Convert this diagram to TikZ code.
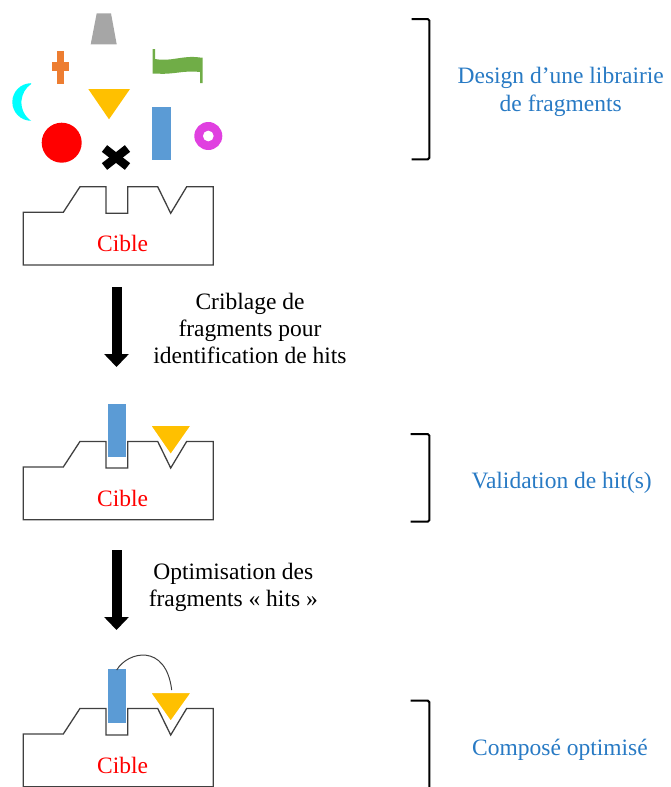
\documentclass[tikz,border=0pt]{standalone}
\usepackage{fontspec}
\setmainfont{Liberation Serif}
\usetikzlibrary{arrows.meta}
\definecolor{outl}{RGB}{64,64,64}
\definecolor{fgray}{RGB}{166,166,166}
\definecolor{forange}{RGB}{237,125,49}
\definecolor{fgreen}{RGB}{112,173,71}
\definecolor{fyellow}{RGB}{255,192,0}
\definecolor{fblue}{RGB}{91,155,213}
\definecolor{fmag}{RGB}{224,64,224}
\definecolor{fcyan}{RGB}{0,255,255}
\definecolor{lbl}{RGB}{40,122,196}
\tikzset{
  cibletxt/.style={text=red, font=\fontsize{23.5}{27}\selectfont, inner sep=0pt},
  steptxt/.style={text=black, font=\fontsize{23.5}{27}\selectfont, align=center, inner sep=0pt},
  bluetxt/.style={text=lbl, font=\fontsize{23.5}{28.5}\selectfont, align=center, inner sep=0pt},
  bracket/.style={draw=black, line width=2pt, rounded corners=1.5pt},
  bigarrow/.style={line width=10pt, -{Triangle[width=24pt,length=13pt]}},
  cible/.pic={
    \draw[outl, line width=1.3pt, line join=miter]
      (23.3,265) -- (23.3,212.3) -- (63.3,212.3) -- (80,186.7) -- (106,186.7)
      -- (106,213.3) -- (127.7,213.3) -- (127.7,186.7) -- (157.7,186.7)
      -- (170.7,213.3) -- (186.7,186.7) -- (213.3,186.7) -- (213.3,265) -- cycle;
    \node[cibletxt] (lab) at (122.7,243.3) {Cible};
  }
}
\begin{document}
\begin{tikzpicture}[x=1pt,y=-1pt]
\useasboundingbox (0,0) rectangle (671,787);

% ---- fragment library ----
\fill[fgray] (96.7,13.3) -- (111,13.3) -- (116.7,44.3) -- (90.7,44.3) -- cycle;
\fill[forange] (56.7,50.7) rectangle (64,84);
\fill[forange] (52.3,62) rectangle (69.3,70.7);
\fill[fgreen] (152.5,49) -- (155,49) -- (155,59)
  .. controls (172,62) and (182,55) .. (200,57.5) -- (202.7,57.5) -- (202.7,83) -- (200,83) -- (200,72)
  .. controls (182,70) and (175,75) .. (155,73.5) -- (152.5,73.5) -- cycle;
\fill[fcyan] (31.1,83.2) arc[start angle=90, end angle=270, radius=18.8pt]
  arc[start angle=235.5, end angle=124.5, radius=22.3pt] -- cycle;
\fill[fyellow] (88.3,89) -- (130,89) -- (109,119.3) -- cycle;
\fill[red] (61.7,142.7) circle[radius=20pt];
\draw[black, line width=8.5pt] (104.5,148.5) -- (127.5,166.5);
\draw[black, line width=8.5pt] (104.5,166.5) -- (127.5,148.5);
\fill[fblue] (151.7,107.3) rectangle (171,160);
\fill[fmag, even odd rule] (208.3,136) circle[radius=14pt] (208.3,136) circle[radius=5.5pt];

% ---- targets ----
\pic (c1) at (0,0) {cible};
\pic (c2) at (0,254.7) {cible};
\pic (c3) at (0,521.7) {cible};

% bound fragments (step 2)
\fill[fblue] (107.7,404.3) rectangle (126,456.7);
\fill[fyellow, draw=white, line width=1.5pt] (150,425) -- (191.7,425) -- (170.7,455) -- cycle;

% optimised compound (step 3)
\fill[fblue] (107.7,669.3) rectangle (126,722.7);
\fill[fyellow, draw=white, line width=1.5pt] (150,692.3) -- (191.7,692.3) -- (170.7,721.7) -- cycle;
\coordinate (l1) at (116.7,670);
\coordinate (l2) at (171.7,690);
\draw[outl, line width=1pt] (l1) .. controls (128,651) and (166,643) .. (l2);

% ---- arrows ----
\coordinate (a1s) at (116.5,287);
\coordinate (a1e) at (116.5,367);
\draw[bigarrow] (a1s) -- (a1e);
\node[steptxt] (t1) at (250,328) {Criblage de\\fragments pour\\identification de hits};

\coordinate (a2s) at (116.5,550);
\coordinate (a2e) at (116.5,630);
\draw[bigarrow] (a2s) -- (a2e);
\node[steptxt] (t2) at (233.3,587) {Optimisation des\\fragments « hits »};

% ---- brackets ----
\coordinate (b1a) at (411.7,19);
\coordinate (b1b) at (411.7,159.3);
\draw[bracket] (b1a) -- (429.3,19) -- (429.3,159.3) -- (b1b);
\node[bluetxt] (d1) at (560.7,91.7) {Design d’une librairie\\de fragments};

\coordinate (b2a) at (410.7,434);
\coordinate (b2b) at (410.7,521.7);
\draw[bracket] (b2a) -- (429.3,434) -- (429.3,521.7) -- (b2b);
\node[bluetxt] (d2) at (561.7,483.3) {Validation de hit(s)};

\coordinate (b3a) at (410.7,700.7);
\coordinate (b3b) at (429.3,790);
\draw[bracket] (b3a) -- (429.3,700.7) -- (b3b);
\node[bluetxt] (d3) at (560,750) {Composé optimisé};
\end{tikzpicture}
\end{document}
